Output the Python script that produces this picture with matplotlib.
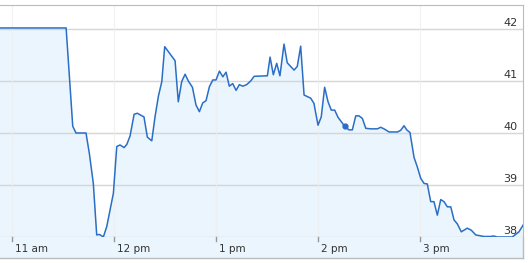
import matplotlib
matplotlib.use('Agg')
from matplotlib import pyplot as plt
from matplotlib.patches import Rectangle
import matplotlib.transforms as mtrans

# minutes after 11 am, and price
minutes = [-7.1, 31.8, 35.7, 37.6, 43.5, 45.5, 47.8, 49.8, 51.4, 53.7, 55.7, 59.6, 61.6, 63.5,
           65.9, 67.5, 69.4, 71.8, 73.7, 75.3, 77.6, 79.6, 82.2, 84.1, 86.1, 88.1, 89.8,
           95.9, 97.8, 99.8, 101.8, 103.7, 106.1, 108.2, 110.2, 112.2, 114.1, 116.1, 118.1,
           120.0, 122.0, 124.0, 125.9, 127.8, 129.8, 131.8, 133.7, 135.7, 138.0, 140.4,
           142.4, 150.2, 151.8, 153.7, 155.7, 157.6, 160.0, 161.9, 165.9, 167.8, 169.8,
           171.8, 175.7, 177.6, 180.0, 181.9, 183.9, 185.9, 187.8, 189.8, 191.8, 195.7,
           198.2, 200.2, 202.2, 204.1, 206.1, 208.1, 211.0, 214.9, 216.9, 218.8, 221.8,
           226.7, 228.6, 230.6, 232.2, 234.1, 236.5, 238.4, 240.4, 242.4, 244.3, 246.3,
           248.2, 250.2, 252.2, 254.1, 256.1, 258.1, 260.0, 262.0, 264.3, 267.8, 270.2,
           272.8, 277.6, 281.6, 283.2, 285.5, 294.3, 298.2, 300.7]
price = [42.02, 42.02, 40.13, 40.0, 40.0, 39.6, 39.03, 38.04, 38.05, 38.0, 38.2, 38.84, 39.74, 39.77,
         39.72, 39.78, 39.94, 40.36, 40.38, 40.35, 40.31, 39.92, 39.85, 40.31, 40.71, 40.99, 41.66,
         41.39, 40.6, 40.99, 41.13, 41.0, 40.88, 40.54, 40.41, 40.58, 40.62, 40.89, 41.02,
         41.02, 41.19, 41.08, 41.17, 40.9, 40.95, 40.82, 40.93, 40.9, 40.93, 41.0,
         41.09, 41.1, 41.46, 41.12, 41.34, 41.1, 41.71, 41.35, 41.21, 41.28, 41.67,
         40.73, 40.67, 40.57, 40.15, 40.31, 40.88, 40.6, 40.44, 40.44, 40.3, 40.13,
         40.06, 40.06, 40.33, 40.33, 40.28, 40.09, 40.08, 40.08, 40.11, 40.08, 40.02,
         40.02, 40.05, 40.14, 40.06, 40.01, 39.53, 39.35, 39.13, 39.03, 39.02, 38.68,
         38.68, 38.42, 38.72, 38.68, 38.58, 38.58, 38.33, 38.25, 38.1, 38.17, 38.13,
         38.04, 38.01, 38.01, 38.02, 38.0, 38.0, 38.1, 38.23]
marker_min = 195.7
marker_price = 40.13

hour_ticks = [0, 60, 120, 180, 240]
hour_labels = ['11 am', '12 pm', '1 pm', '2 pm', '3 pm']
price_ticks = [38, 39, 40, 41, 42]

W, H = 528, 263
fig = plt.figure(figsize=(W / 100, H / 100), dpi=100)
fig.patch.set_facecolor('white')

line_col = '#2a6ec6'
fill_col = '#ebf5fd'

# axes box in pixels: x 0..523, y 5..237 (from top)
ax = fig.add_axes([0, 1 - 237 / H, 523 / W, 232 / H])
ax.set_facecolor('white')
ax.set_xlim(-7.1, 300.6)
ax.set_ylim(38, 38 + 232 / 52)

ax.fill_between(minutes, price, 30, color=fill_col, zorder=2, lw=0)
for p in price_ticks:
    ax.axhline(p, color='#d6d6d6', lw=1, zorder=2.5)
for h in hour_ticks:
    ax.axvline(h, color='#eeeeee', lw=0.8, alpha=0.8, zorder=2.5)
ax.plot(minutes, price, color=line_col, lw=1.1, zorder=3)
ax.plot([marker_min], [marker_price], 'o', color=line_col, ms=3.5, zorder=4)

ax.set_xticks([])
ax.set_yticks([])
for s in ['left', 'bottom']:
    ax.spines[s].set_visible(False)
ax.spines['top'].set_color('#bbbbbb')
ax.spines['right'].set_color('#bbbbbb')

trans = mtrans.blended_transform_factory(ax.transAxes, ax.transData)
for p in price_ticks:
    ax.text(0.99, p + 0.02, str(p), transform=trans, ha='right', va='bottom',
            fontsize=8, color='#333333', zorder=5)

# x label strip below the plot
strip = Rectangle((0, 1 - 258 / H), 523 / W, 21 / H, transform=fig.transFigure,
                  facecolor=fill_col, edgecolor='none', zorder=0)
fig.patches.append(strip)
fig.add_artist(plt.Line2D([0, 523 / W], [1 - 258 / H] * 2, transform=fig.transFigure,
                          color='#bbbbbb', lw=1))
fig.add_artist(plt.Line2D([523 / W] * 2, [1 - 258 / H, 1 - 237 / H], transform=fig.transFigure,
                          color='#bbbbbb', lw=1))

xtrans = mtrans.blended_transform_factory(ax.transData, fig.transFigure)
label_trans = xtrans + mtrans.ScaledTranslation(3 / 100, 0, fig.dpi_scale_trans)
for h, lab in zip(hour_ticks, hour_labels):
    fig.add_artist(plt.Line2D([h, h], [1 - 237 / H, 1 - 241 / H], transform=xtrans,
                              color='#999999', lw=1))
    fig.text(h, 1 - 249 / H, lab, transform=label_trans,
             ha='left', va='center', fontsize=7.5, color='#333333')

plt.savefig('out.png', dpi=100)
